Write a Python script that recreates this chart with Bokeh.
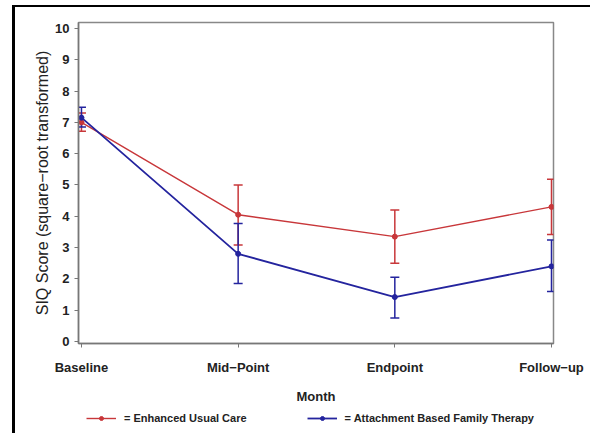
from bokeh.plotting import figure
from bokeh.layouts import column, row
from bokeh.models import (Range1d, FixedTicker, Whisker, TeeHead, ColumnDataSource,
                          Legend, LegendItem, Spacer)
from bokeh.embed import file_html
from bokeh.resources import INLINE

categories = ["Baseline", "Mid\u2212Point", "Endpoint", "Follow\u2212up"]
y_ticks = list(range(0, 11))

euc_mean = [7.0, 4.05, 3.35, 4.3]
euc_lower = [6.72, 3.08, 2.5, 3.42]
euc_upper = [7.3, 5.0, 4.2, 5.18]

abft_mean = [7.15, 2.8, 1.42, 2.4]
abft_lower = [6.85, 1.85, 0.75, 1.6]
abft_upper = [7.48, 3.77, 2.05, 3.24]

series_labels = ["= Enhanced Usual Care", "= Attachment Based Family Therapy"]

RED = "#c8373a"
BLUE = "#24249e"
FONT = "Liberation Sans"

xs = list(range(len(categories)))

p = figure(width=575, height=400, output_backend="svg", toolbar_location=None,
           x_range=Range1d(-0.019, 3.0128), y_range=Range1d(-0.064, 10.19),
           min_border_left=63, min_border_right=37, min_border_top=15,
           min_border_bottom=64)

p.grid.visible = False
p.outline_line_color = "#888888"
p.outline_line_width = 1.5

for ax in (p.xaxis[0], p.yaxis[0]):
    ax.axis_line_color = "#777777"
    ax.axis_line_width = 1.5
    ax.major_tick_line_color = "#777777"
    ax.major_tick_out = 4
    ax.major_tick_in = 0
    ax.minor_tick_line_color = None
    ax.major_label_text_font = FONT
    ax.major_label_text_font_style = "bold"
    ax.major_label_text_font_size = "13px"
    ax.major_label_text_color = "#222222"
    ax.axis_label_text_font = FONT
    ax.axis_label_text_font_style = "normal"
    ax.axis_label_text_color = "#222222"

p.xaxis.ticker = FixedTicker(ticks=xs)
p.xaxis.major_label_overrides = {i: c for i, c in zip(xs, categories)}
p.xaxis.major_label_standoff = 12
p.xaxis.axis_label = "Month"
p.xaxis.axis_label_text_font_style = "bold"
p.xaxis.axis_label_text_font_size = "13px"
p.xaxis.axis_label_standoff = 11

p.yaxis.ticker = FixedTicker(ticks=y_ticks)
p.yaxis.major_label_standoff = 5
p.yaxis.axis_label = "SIQ Score (square\u2212root transformed)"
p.yaxis.axis_label_text_font_size = "16px"
p.yaxis.axis_label_standoff = 1

# legend strip
lg = figure(width=575, height=26, output_backend="svg", toolbar_location=None,
            x_range=Range1d(0, 1), y_range=Range1d(0, 1),
            x_axis_type=None, y_axis_type=None, min_border=0)
lg.grid.visible = False
lg.outline_line_color = None

items = []
for label, mean, lo, hi, col, lw in [
        (series_labels[0], euc_mean, euc_lower, euc_upper, RED, 1.4),
        (series_labels[1], abft_mean, abft_lower, abft_upper, BLUE, 1.8)]:
    src = ColumnDataSource(dict(x=xs, y=mean, lo=lo, hi=hi))
    w = Whisker(source=src, base="x", lower="lo", upper="hi",
                line_color=col, line_width=1.5,
                upper_head=TeeHead(size=9, line_color=col, line_width=1.5),
                lower_head=TeeHead(size=9, line_color=col, line_width=1.5))
    p.add_layout(w)
    p.line("x", "y", source=src, line_color=col, line_width=lw)
    p.scatter("x", "y", source=src, size=5, marker="circle",
              line_color=col, fill_color=col)
    l2 = lg.line("x", "y", source=src, line_color=col, line_width=lw, visible=False)
    s2 = lg.scatter("x", "y", source=src, size=5, marker="circle",
                    line_color=col, fill_color=col, visible=False)
    items.append(LegendItem(label=label, renderers=[l2, s2]))

legend = Legend(items=items, orientation="horizontal", location=(8, 9))
legend.label_text_font = FONT
legend.label_text_font_size = "11px"
legend.label_text_font_style = "bold"
legend.label_text_color = "#222222"
legend.glyph_width = 30
legend.glyph_height = 10
legend.label_standoff = 8
legend.spacing = 60
legend.padding = 1
legend.margin = 0
legend.border_line_color = None
legend.background_fill_alpha = 0
lg.add_layout(legend, "center")

framed = column(p, lg, spacing=0)
framed.styles = {"border-top": "2px solid black", "border-left": "3px solid black"}
layout = row(Spacer(width=12), column(Spacer(height=5), framed, spacing=0), spacing=0)

open("out.html", "w").write(file_html(layout, INLINE))
